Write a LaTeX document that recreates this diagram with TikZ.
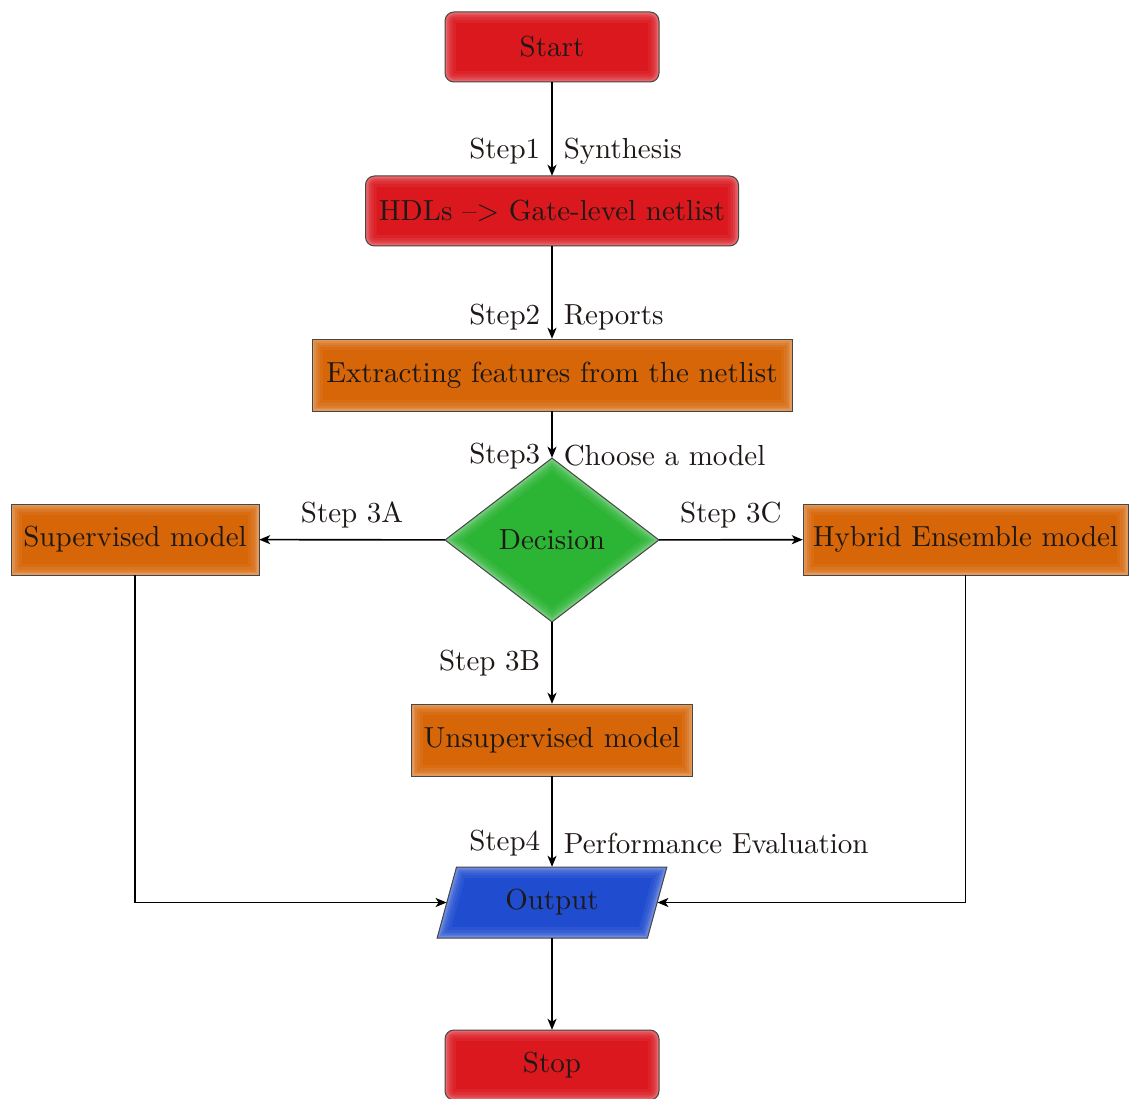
\documentclass[tikz,border=0pt]{standalone}
\usepackage{fontspec}
\setmainfont{lmroman10-regular.otf}
\usetikzlibrary{shapes.geometric,arrows.meta}

\definecolor{boxred}{RGB}{218,24,30}
\definecolor{boxorange}{RGB}{214,102,8}
\definecolor{boxgreen}{RGB}{44,180,52}
\definecolor{boxblue}{RGB}{32,76,208}
\definecolor{edgegray}{RGB}{70,70,70}
\definecolor{inktext}{RGB}{30,24,22}

\tikzset{
  % soft lighter rim inside each box, then a thin grey outline
  glow/.style={
    postaction={draw=white,opacity=0.05,line width=22pt},
    postaction={draw=white,opacity=0.06,line width=16pt},
    postaction={draw=white,opacity=0.08,line width=11pt},
    postaction={draw=white,opacity=0.10,line width=7pt},
    postaction={draw=white,opacity=0.12,line width=4pt},
    postaction={draw=edgegray,line width=1pt}},
  base/.style={font=\fontsize{29}{34}\selectfont, text=inktext, inner sep=4pt, glow},
  term/.style={base, rectangle, rounded corners=9pt, fill=boxred, minimum height=70pt},
  proc/.style={base, rectangle, fill=boxorange, minimum height=71pt},
  dec/.style={base, diamond, fill=boxgreen, minimum width=214pt, minimum height=164pt, inner sep=0pt},
  io/.style={base, trapezium, trapezium left angle=70, trapezium right angle=110,
    trapezium stretches=true, fill=boxblue, minimum width=230pt, minimum height=71pt, inner sep=0pt},
  arr/.style={line width=1.6pt, -{Stealth[length=11pt,width=9pt,inset=3pt]}},
  lab/.style={font=\fontsize{29}{34}\selectfont, inner sep=3pt, text=inktext},
}

\begin{document}
\begin{tikzpicture}[x=1pt,y=-1pt]
\useasboundingbox (0,0) rectangle (1129,1099);

% boxes
\node[term, minimum width=214pt] (start) at (552,47) {Start};
\node[term, minimum width=373pt] (hdl) at (552,211) {HDLs --{}> Gate-level netlist};
\node[proc, minimum width=480pt, minimum height=72pt] (feat) at (552,375) {Extracting features from the netlist};
\node[dec] (dec) at (552,540) {Decision};
\node[proc, minimum width=248pt] (sup) at (135,539.5) {Supervised model};
\node[proc, minimum width=325pt] (hyb) at (965.5,539.5) {Hybrid Ensemble model};
\node[proc, minimum width=281pt, minimum height=72pt] (unsup) at (552,740) {Unsupervised model};
\node[io] (out) at (552,902.5) {Output};
\node[term, minimum width=214pt] (stop) at (552,1065) {Stop};

% connectors
\draw[arr] (start) -- node[lab,left=8pt,pos=0.74]{Step1} node[lab,right=8pt,pos=0.74]{Synthesis} (hdl);
\draw[arr] (hdl) -- node[lab,left=8pt,pos=0.77]{Step2} node[lab,right=8pt,pos=0.77]{Reports} (feat);
\draw[arr] (feat) -- node[lab,left=8pt,pos=0.96]{Step3} node[lab,right=8pt,pos=0.96]{Choose a model} (dec);
\draw[arr] (dec) -- node[lab,above=8pt]{Step 3A} (sup);
\draw[arr] (dec) -- node[lab,above=8pt]{Step 3C} (hyb);
\draw[arr] (dec) -- node[lab,left=8pt,pos=0.5]{Step 3B} (unsup);
\draw[arr] (unsup) -- node[lab,left=8pt,pos=0.74]{Step4} node[lab,right=8pt,pos=0.74]{Performance Evaluation} (out);
\draw[arr] (sup) |- (out);
\draw[arr] (hyb) |- (out);
\draw[arr] (out) -- (stop);
\end{tikzpicture}
\end{document}
